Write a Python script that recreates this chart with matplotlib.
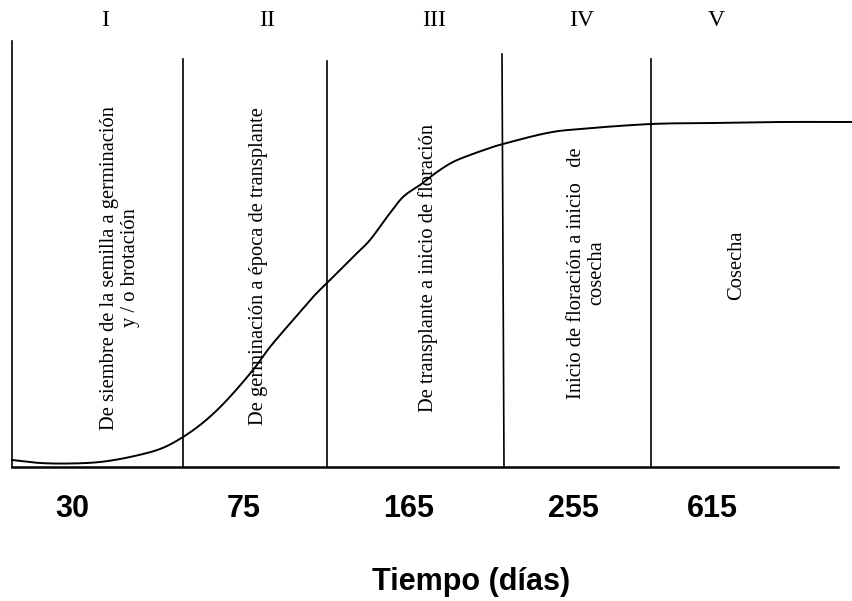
import matplotlib
matplotlib.use("Agg")
import matplotlib.pyplot as plt
import numpy as np

# ---- data ----
curve_x = [0, 28, 58, 88, 118, 148, 171, 193, 215, 241, 258, 281, 301, 315, 341, 358,
           375, 391, 408, 425, 441, 458, 475, 491, 535, 568, 639, 701, 768, 840]
curve_y = [7, 4, 3.5, 5, 10, 18, 30, 46, 67, 97, 120, 147, 170, 184, 210, 227,
           250, 270, 282, 295, 305, 312, 318, 323, 334, 338, 343, 344, 345, 345]
phase_x_top = [171, 315, 490, 639]
phase_x_bottom = [171, 315, 492, 639]
phase_top = [408, 406, 413, 408]
phase_numerals = ["I", "II", "III", "IV", "V"]
phase_labels = [
    "De siembre de la semilla a germinación\ny / o brotación",
    "De germinación a época de transplante",
    "De transplante a inicio de floración",
    "Inicio de floración a inicio   de\ncosecha",
    "Cosecha",
]
day_labels = ["30", "75", "165", "255", "615"]
xlabel = "Tiempo (días)"


def catmull_rom(xs, ys, n=12):
    """Smooth rendering path through the read points (drawing only)."""
    p = np.column_stack([xs, ys]).astype(float)
    p = np.vstack([p[0], p, p[-1]])
    out = []
    for i in range(1, len(p) - 2):
        p0, p1, p2, p3 = p[i - 1], p[i], p[i + 1], p[i + 2]
        t = np.linspace(0, 1, n, endpoint=False)[:, None]
        seg = 0.5 * ((2 * p1) + (-p0 + p2) * t + (2 * p0 - 5 * p1 + 4 * p2 - p3) * t ** 2
                     + (-p0 + 3 * p1 - 3 * p2 + p3) * t ** 3)
        out.append(seg)
    out.append(p[-2][None, :])
    out = np.vstack(out)
    return out[:, 0], out[:, 1]


# ---- layout (pixel-based positions) ----
W, H = 852, 601
fig = plt.figure(figsize=(W / 100, H / 100), dpi=100)
ax_left, ax_right, ax_top, ax_bottom = 12, 852, 41, 467
ax = fig.add_axes([ax_left / W, (H - ax_bottom) / H,
                   (ax_right - ax_left) / W, (ax_bottom - ax_top) / H])
ax.set_xlim(0, ax_right - ax_left)
ax.set_ylim(0, ax_bottom - ax_top)
for s in ["top", "right"]:
    ax.spines[s].set_visible(False)
ax.spines["left"].set_linewidth(1.2)
ax.spines["bottom"].set_linewidth(1.8)
ax.spines["bottom"].set_bounds(0, 826)
ax.set_xticks([])
ax.set_yticks([])

sx, sy = catmull_rom(curve_x, curve_y)
ax.plot(sx, sy, color="black", lw=1.4, clip_on=False, solid_joinstyle="round")
for xt, xb, yt in zip(phase_x_top, phase_x_bottom, phase_top):
    ax.plot([xb, xt], [0, yt], color="black", lw=1.2, clip_on=False)

serif = ["Liberation Serif", "DejaVu Serif"]
sans = ["Liberation Sans", "DejaVu Sans"]


def fx(px):
    return px / W


def fy(py):
    return 1 - py / H


numeral_x = [105, 267, 434, 582, 716]
for nx, t in zip(numeral_x, phase_numerals):
    fig.text(fx(nx), fy(20), t, family=serif, fontsize=17, ha="center", va="center")

label_x = [120, 258, 428, 587, 737]
label_y = [268, 266, 268, 273, 265]
for lx, ly, t in zip(label_x, label_y, phase_labels):
    fig.text(fx(lx), fy(ly), t, family=serif, fontsize=14.8, rotation=90,
             ha="center", va="center", multialignment="center", linespacing=1.1)

day_x = [72, 244, 409, 573, 712]
for dx, t in zip(day_x, day_labels):
    fig.text(fx(dx), fy(509), t, family=sans, fontsize=22, fontweight="bold",
             ha="center", va="center")

fig.text(fx(471), fy(582), xlabel, family=sans, fontsize=22, fontweight="bold",
         ha="center", va="center")

fig.savefig("out.png", dpi=100)
